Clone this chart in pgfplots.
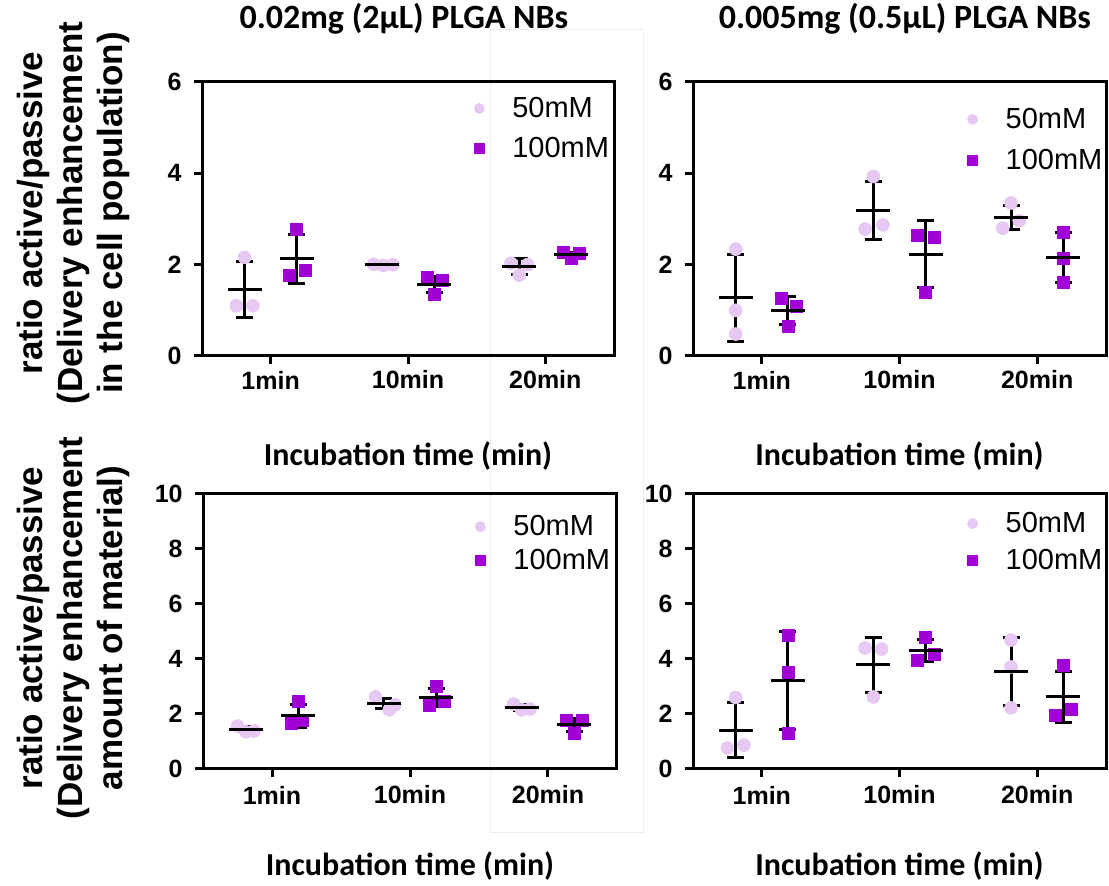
\documentclass[border=0pt]{standalone}
\usepackage{fontspec}
\setmainfont{Liberation Sans}
\newfontfamily\calibri{Carlito}
\usepackage{pgfplots}
\pgfplotsset{compat=1.18}
\definecolor{c50}{RGB}{230,200,242}
\definecolor{c100}{RGB}{160,0,212}
\pgfplotsset{
 panel/.style={
  scale only axis, anchor=south west, clip=false,
  xmin=0.5, xmax=3.5, xtick={1,2,3}, xticklabels={1min,10min,20min},
  ymin=0,
  xtick pos=bottom, ytick pos=left,
  tick align=outside, major tick length=4pt,
  axis line style={line width=1.5pt},
  tick style={line width=1.5pt, black},
  ticklabel style={font=\rmfamily\bfseries\fontsize{12.5}{14}\selectfont},
  /pgf/number format/assume math mode=true,
  yticklabel style={anchor=east, inner sep=0pt, xshift=-6pt},
  xticklabel style={anchor=center, yshift=-8pt},
  title style={font=\calibri\bfseries\fontsize{17}{20}\selectfont, anchor=center},
  xlabel style={font=\calibri\bfseries\fontsize{16}{19}\selectfont, anchor=center},
  legend style={draw=none, fill=none, anchor=north west, inner sep=0pt,
    font=\rmfamily\fontsize{14.5}{17}\selectfont, nodes={inner sep=0pt},
    /tikz/every odd column/.append style={column sep=14pt}},
  legend cell align=left,
  legend image code/.code={\draw[##1] plot coordinates {(0pt,0pt)};},
 },
 m50/.style={only marks, mark=*, mark size=3.2pt, mark options={fill=c50, draw=c50}},
 m100/.style={only marks, mark=square*, mark size=3pt, mark options={fill=c100, draw=c100}},
 l50/.style={only marks, mark=*, mark size=2.5pt, mark options={fill=c50, draw=c50}},
 l100/.style={only marks, mark=square*, mark size=2.5pt, mark options={fill=c100, draw=c100}},
 eb/.style={only marks, black, mark=-, mark size=8.5pt, mark options={line width=1.5pt, black},
   error bars/y dir=both, error bars/y explicit,
   error bars/error bar style={line width=1.5pt, black},
   error bars/error mark options={rotate=90, mark size=4.25pt, line width=1.5pt, black}},
}
\begin{document}
\begin{tikzpicture}
\useasboundingbox (0,0) rectangle (554.5pt,443pt);
\draw[black!7, line width=0.5pt] (245pt,26.5pt) rectangle (321.5pt,428pt);

% ---------------- A: top left ----------------
\begin{axis}[panel, at={(101pt,265pt)}, width=206pt, height=137pt,
  ymax=6, ytick={0,2,4,6},
  title={0.02mg (2μL) PLGA NBs}, title style={at={(axis description cs:0.49,1)}, yshift=25.5pt},
  xlabel={Incubation time (min)}, xlabel style={at={(axis description cs:0.5,0)}, yshift=-50pt},
  legend style={at={(0.660,0.947)}, row sep=8.5pt}]
\addlegendimage{l50}\addlegendentry{50mM}
\addlegendimage{l100}\addlegendentry{100mM}
\addplot[forget plot, m50] coordinates {(0.81,2.16) (0.75,1.10) (0.87,1.10)
  (1.75,2.01) (1.82,1.98) (1.89,2.00)
  (2.75,2.03) (2.81,1.77) (2.87,2.00)};
\addplot[forget plot, m100] coordinates {(1.19,2.78) (1.14,1.77) (1.25,1.88)
  (2.14,1.72) (2.25,1.66) (2.19,1.35)
  (3.13,2.27) (3.19,2.14) (3.25,2.24)};
\addplot[forget plot, eb] coordinates {(0.81,1.46) +- (0,0.61) (1.19,2.13) +- (0,0.54)
  (1.81,2.00) +- (0,0.03) (2.19,1.57) +- (0,0.17)
  (2.81,1.96) +- (0,0.165) (3.19,2.22) +- (0,0.05)};
\end{axis}

% ---------------- B: top right ----------------
\begin{axis}[panel, at={(346.5pt,265pt)}, width=206.5pt, height=137pt,
  ymax=6, ytick={0,2,4,6},
  title={0.005mg (0.5μL) PLGA NBs}, title style={at={(axis description cs:0.513,1)}, yshift=25.5pt},
  xlabel={Incubation time (min)}, xlabel style={at={(axis description cs:0.5,0)}, yshift=-50pt},
  legend style={at={(0.664,0.907)}, row sep=9pt}]
\addlegendimage{l50}\addlegendentry{50mM}
\addlegendimage{l100}\addlegendentry{100mM}
\addplot[forget plot, m50] coordinates {(0.81,2.34) (0.81,1.00) (0.81,0.48)
  (1.81,3.93) (1.75,2.78) (1.88,2.87)
  (2.81,3.35) (2.87,2.96) (2.75,2.80)};
\addplot[forget plot, m100] coordinates {(1.14,1.26) (1.25,1.08) (1.19,0.64)
  (2.13,2.65) (2.25,2.60) (2.19,1.39)
  (3.19,2.71) (3.19,2.14) (3.19,1.61)};
\addplot[forget plot, eb] coordinates {(0.81,1.27) +- (0,0.96) (1.19,0.99) +- (0,0.31)
  (1.81,3.19) +- (0,0.63) (2.19,2.23) +- (0,0.73)
  (2.81,3.04) +- (0,0.265) (3.19,2.16) +- (0,0.55)};
\end{axis}

% ---------------- C: bottom left ----------------
\begin{axis}[panel, at={(101.5pt,58.5pt)}, width=207pt, height=137.5pt,
  ymax=10, ytick={0,2,4,6,8,10},
  xticklabel style={yshift=-1pt},
  xlabel={Incubation time (min)}, xlabel style={at={(axis description cs:0.5,0)}, yshift=-48.5pt},
  legend style={at={(0.657,0.925)}, row sep=5.5pt}]
\addlegendimage{l50}\addlegendentry{50mM}
\addlegendimage{l100}\addlegendentry{100mM}
\addplot[forget plot, m50] coordinates {(0.75,1.56) (0.81,1.35) (0.87,1.38)
  (1.75,2.62) (1.85,2.15) (1.89,2.33)
  (2.75,2.36) (2.81,2.15) (2.87,2.18)};
\addplot[forget plot, m100] coordinates {(1.19,2.44) (1.22,1.75) (1.14,1.64)
  (2.19,3.02) (2.14,2.33) (2.25,2.44)
  (3.13,1.78) (3.25,1.75) (3.19,1.31)};
\addplot[forget plot, eb] coordinates {(0.81,1.45) +- (0,0.08) (1.19,1.93) +- (0,0.42)
  (1.81,2.37) +- (0,0.18) (2.19,2.60) +- (0,0.33)
  (2.81,2.23) +- (0,0.10) (3.19,1.60) +- (0,0.22)};
\end{axis}

% ---------------- D: bottom right ----------------
\begin{axis}[panel, at={(346.5pt,58.5pt)}, width=206.5pt, height=137.5pt,
  ymax=10, ytick={0,2,4,6,8,10},
  xticklabel style={yshift=-1pt},
  xlabel={Incubation time (min)}, xlabel style={at={(axis description cs:0.5,0)}, yshift=-48.5pt},
  legend style={at={(0.664,0.936)}, row sep=7pt}]
\addlegendimage{l50}\addlegendentry{50mM}
\addlegendimage{l100}\addlegendentry{100mM}
\addplot[forget plot, m50] coordinates {(0.81,2.60) (0.75,0.76) (0.87,0.87)
  (1.75,4.40) (1.87,4.36) (1.81,2.62)
  (2.81,4.69) (2.81,3.71) (2.81,2.22)};
\addplot[forget plot, m100] coordinates {(1.19,4.84) (1.19,3.53) (1.19,1.31)
  (2.19,4.80) (2.13,3.96) (2.25,4.18)
  (3.19,3.75) (3.13,1.96) (3.25,2.15)};
\addplot[forget plot, eb] coordinates {(0.81,1.41) +- (0,1.00) (1.19,3.23) +- (0,1.78)
  (1.81,3.79) +- (0,1.00) (2.19,4.31) +- (0,0.40)
  (2.81,3.54) +- (0,1.24) (3.19,2.62) +- (0,0.93)};
\end{axis}

\node[rotate=90, align=center, font=\rmfamily\bfseries\fontsize{17.5}{20}\selectfont] at (36.5pt,336.5pt)
  {ratio active/passive\\(Delivery enhancement\\in the cell population)};
\node[rotate=90, align=center, font=\rmfamily\bfseries\fontsize{17.5}{20}\selectfont] at (36.5pt,129pt)
  {ratio active/passive\\(Delivery enhancement\\amount of material)};
\end{tikzpicture}
\end{document}
